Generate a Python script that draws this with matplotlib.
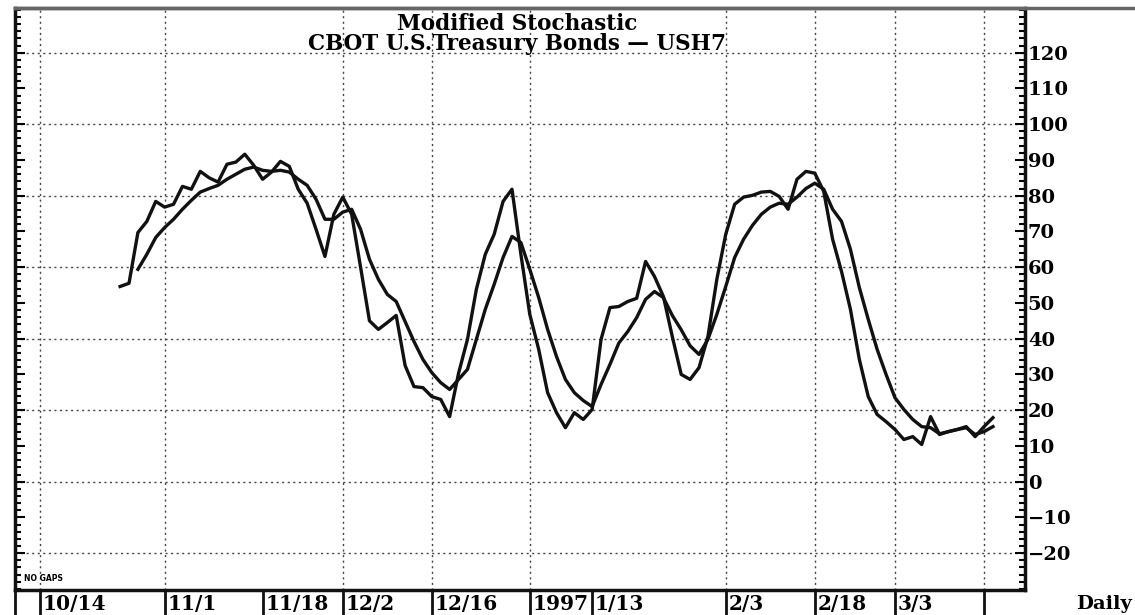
import numpy as np
import matplotlib.pyplot as plt
from matplotlib.lines import Line2D
from matplotlib.ticker import MultipleLocator

# trading day index 0 = 10/14/96, no gaps
fast_start = 9
fast = [54.6, 55.5,
        69.7, 72.8, 78.4, 76.8, 77.6, 82.6, 81.8, 86.8, 85.0, 83.8,
        88.8, 89.4, 91.6, 88.5, 84.6, 86.6, 89.6, 88.2, 81.8, 77.9,
        70.6, 63.0, 74.8, 79.6, 74.8, 60.0, 45.0, 42.6, 44.5, 46.5,
        32.5, 26.6, 26.3, 23.8, 23.0, 18.2, 30.3, 39.8, 53.8, 63.6,
        69.2, 78.4, 81.8, 63.6, 46.8, 37.0, 24.9, 19.3, 15.1, 19.3,
        17.4, 20.2, 39.8, 48.7, 49.0, 50.4, 51.3, 61.6, 57.4, 51.8,
        40.6, 30.0, 28.6, 31.9, 40.6, 56.6, 69.2, 77.6, 79.6, 80.1,
        81.0, 81.2, 79.8, 76.2, 84.6, 86.8, 86.3, 81.2, 67.8, 58.8,
        48.2, 34.2, 23.8, 18.8, 16.8, 14.6, 11.8, 12.6, 10.4, 18.2,
        13.2, 14.0, 14.6, 15.4, 12.6, 15.4, 17.9]

slow_start = 11
slow = [59.4, 63.6, 68.3, 71.1, 73.4, 76.2, 78.7, 81.0, 82.0, 82.9,
        84.6, 86.0, 87.4, 88.0, 87.1, 86.8, 87.1, 86.6, 84.6, 82.9,
        79.0, 73.4, 73.4, 75.4, 76.2, 70.6, 62.2, 56.6, 52.4, 50.4,
        44.8, 39.2, 34.2, 30.5, 27.7, 25.8, 28.6, 31.4, 39.8, 48.2,
        55.2, 62.7, 68.6, 66.9, 59.4, 51.5, 42.6, 35.0, 28.6, 24.9,
        22.7, 21.0, 27.2, 32.8, 38.8, 42.0, 45.9, 51.0, 53.2, 51.5,
        46.5, 42.5, 38.0, 35.6, 39.8, 46.8, 54.6, 62.7, 67.8, 71.7,
        74.8, 76.8, 77.9, 77.6, 79.6, 82.0, 83.5, 81.8, 76.2, 72.8,
        65.0, 54.3, 45.4, 37.0, 30.0, 23.5, 20.2, 17.4, 15.4, 15.1,
        13.4, 14.0, 14.6, 15.1, 13.2, 14.0, 15.4]

date_labels = ["10/14", "11/1", "11/18", "12/2", "12/16", "1997", "1/13",
               "2/3", "2/18", "3/3", ""]
date_idx = [0, 14, 25, 34, 44, 55, 62, 77, 87, 96, 106]
vgrid_idx = [0, 14, 34, 44, 55, 77, 87, 96, 106]
hgrid_levels = [-20, 0, 20, 40, 60, 80, 100, 120]

font = "DejaVu Serif"

fig = plt.figure(figsize=(11.35, 6.15), dpi=100)
ax = fig.add_axes([15 / 1135, 25 / 615, 1010 / 1135, 582 / 615])

x_fast = np.arange(fast_start, fast_start + len(fast))
x_slow = np.arange(slow_start, slow_start + len(slow))

# grid
for lv in hgrid_levels:
    ax.axhline(lv, color="#444444", lw=1.0, ls=(0, (1.5, 2.5)), zorder=1)
for i in vgrid_idx:
    ax.axvline(i, color="#444444", lw=1.0, ls=(0, (1.5, 2.5)), zorder=1)

ax.plot(x_fast, fast, color="#111111", lw=2.4, solid_joinstyle="round", zorder=3)
ax.plot(x_slow, slow, color="#111111", lw=2.4, solid_joinstyle="round", zorder=3)

ax.set_xlim(-2.8, 110.6)
ax.set_ylim(-30.3, 132.5)

# axis / ticks
ax.set_xticks([])
ax.yaxis.set_major_locator(MultipleLocator(10))
ax.yaxis.set_minor_locator(MultipleLocator(2))
ax.tick_params(axis="y", which="both", direction="in", left=True, right=True,
               labelleft=False, labelright=True, width=1.5, pad=2)
ax.tick_params(axis="y", which="major", length=7)
ax.tick_params(axis="y", which="minor", length=4)
ax.set_yticks(np.arange(-20, 121, 10))
for lab in ax.get_yticklabels():
    lab.set_fontfamily(font)
    lab.set_fontweight("bold")
    lab.set_fontsize(14)
for s in ax.spines.values():
    s.set_linewidth(2.5)
    s.set_color("#111111")
ax.spines["top"].set_color("#666666")

# top border runs on to the right edge
fig.add_artist(Line2D([15 / 1135, 1.0], [607 / 615, 607 / 615], color="#666666",
                      lw=2.5, transform=fig.transFigure))

# title
ax.text(0.497, 0.992, "Modified Stochastic", transform=ax.transAxes, ha="center",
        va="top", fontfamily=font, fontweight="bold", fontsize=15.5)
ax.text(0.497, 0.957, "CBOT U.S.Treasury Bonds \u2014 USH7", transform=ax.transAxes,
        ha="center", va="top", fontfamily=font, fontweight="bold", fontsize=15.5)

ax.text(0.009, 0.012, "NO GAPS", transform=ax.transAxes, ha="left", va="bottom",
        fontfamily="DejaVu Sans", fontweight="bold", fontsize=5.5)

# date cells below the plot
trans = ax.get_xaxis_transform()
for lab, i in zip(date_labels, date_idx):
    ax.plot([i, i], [0, -0.045], color="#111111", lw=2.0, transform=trans,
            clip_on=False)
    ax.text(i + 0.3, -0.024, lab, transform=trans, ha="left", va="center",
            fontfamily=font, fontweight="bold", fontsize=14.5)
ax.plot([-2.8, -2.8], [0, -0.045], color="#111111", lw=2.0, transform=trans,
        clip_on=False)

fig.text(1132 / 1135, 11 / 615, "Daily", ha="right", va="center",
         fontfamily=font, fontweight="bold", fontsize=14)

fig.savefig("out.png", dpi=100)
